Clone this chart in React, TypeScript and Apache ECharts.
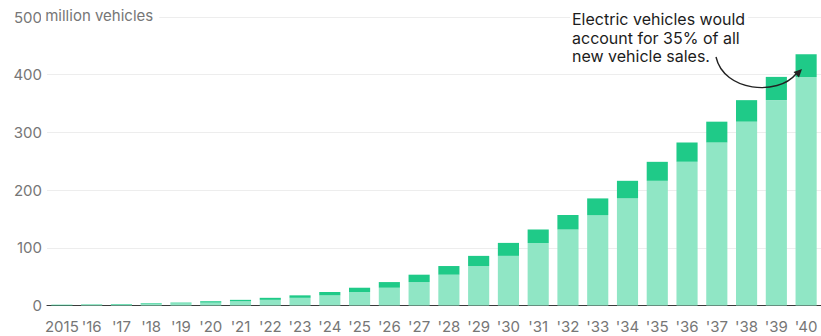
import React, { useEffect, useRef } from "react";
import * as echarts from "echarts";

// Years on the x axis
const years: string[] = [
  "2015", "'16", "'17", "'18", "'19", "'20", "'21", "'22", "'23", "'24", "'25", "'26", "'27",
  "'28", "'29", "'30", "'31", "'32", "'33", "'34", "'35", "'36", "'37", "'38", "'39", "'40",
];

// Fleet carried over from the previous year (million vehicles, light segment)
const carriedOver: number[] = [
  0.6, 1.2, 1.9, 2.7, 3.8, 5.0, 7.4, 9.8, 13.3, 17.6, 23.4, 30.8, 40.6,
  53.4, 68.4, 86.0, 108.5, 131.6, 156.7, 185.6, 216.1, 249.0, 282.5, 318.6, 355.9, 396.2,
];

// Added during the year (million vehicles, dark segment)
const addedInYear: number[] = [
  0.6, 0.7, 0.8, 1.1, 1.2, 2.4, 2.4, 3.5, 4.3, 5.8, 7.4, 9.8, 12.8,
  15.0, 17.6, 22.5, 23.1, 25.1, 28.9, 30.5, 32.9, 33.5, 36.1, 37.3, 40.3, 39.3,
];

const yMax = 500;
const yStep = 100;
const unitText = " million vehicles";
const noteLines = ["Electric vehicles would", "account for 35% of all", "new vehicle sales."];

const FONT = "Inter, 'Liberation Sans', sans-serif";
const LIGHT = "#90e6c5";
const DARK = "#1fca88";
const LABEL = "#767676";

export default function App() {
  const ref = useRef<HTMLDivElement>(null);

  useEffect(() => {
    if (!ref.current) return;
    const chart = echarts.init(ref.current, undefined, { renderer: "svg" });

    chart.setOption({
      animation: false,
      grid: { left: 47, top: 17, width: 776, height: 288.5, containLabel: false },
      xAxis: {
        type: "category",
        data: years,
        axisLine: { lineStyle: { color: "#3a3a3a", width: 1.2 } },
        axisTick: { alignWithLabel: true, length: 5, lineStyle: { color: "#8a8a8a" } },
        axisLabel: { color: LABEL, fontFamily: FONT, fontSize: 15, margin: 13, interval: 0 },
      },
      yAxis: {
        type: "value",
        min: 0,
        max: yMax,
        interval: yStep,
        axisLine: { show: false },
        axisTick: { show: false },
        splitLine: { lineStyle: { color: "#ededed", width: 1 } },
        axisLabel: {
          color: LABEL,
          fontFamily: FONT,
          fontSize: 15,
          margin: 5,
          showMinLabel: true,
          showMaxLabel: true,
        },
      },
      series: [
        {
          name: "carried over",
          type: "bar",
          stack: "fleet",
          data: carriedOver,
          barCategoryGap: "29%",
          itemStyle: { color: LIGHT },
        },
        {
          name: "added",
          type: "bar",
          stack: "fleet",
          data: addedInYear,
          barCategoryGap: "29%",
          itemStyle: { color: DARK },
        },
      ],
      graphic: [
        {
          type: "text",
          z: 100,
          left: 41,
          top: 8,
          style: {
            text: unitText,
            fill: LABEL,
            font: `15px ${FONT}`,
            backgroundColor: "#fff",
            padding: [0, 6, 0, 0],
          },
        },
        {
          type: "text",
          z: 100,
          left: 570,
          top: 10,
          style: {
            text: noteLines.join("\n"),
            fill: "#1c1c1c",
            font: `16px ${FONT}`,
            lineHeight: 18.5,
            backgroundColor: "#fff",
            padding: [0, 3, 0, 2],
          },
        },
        {
          type: "bezierCurve",
          z: 100,
          shape: { x1: 716, y1: 57, cpx1: 724, cpy1: 92, cpx2: 778, cpy2: 96, x2: 796, y2: 74 },
          style: { stroke: "#222", lineWidth: 1.4, fill: "none" },
        },
        {
          type: "polygon",
          z: 100,
          shape: { points: [[802, 69], [799, 77.5], [793.5, 72]] },
          style: { fill: "#222" },
        },
      ],
    });

    return () => chart.dispose();
  }, []);

  return (
    <div
      ref={ref}
      style={{ position: "absolute", left: 0, top: 0, width: 821, height: 336, background: "#fff" }}
    />
  );
}
